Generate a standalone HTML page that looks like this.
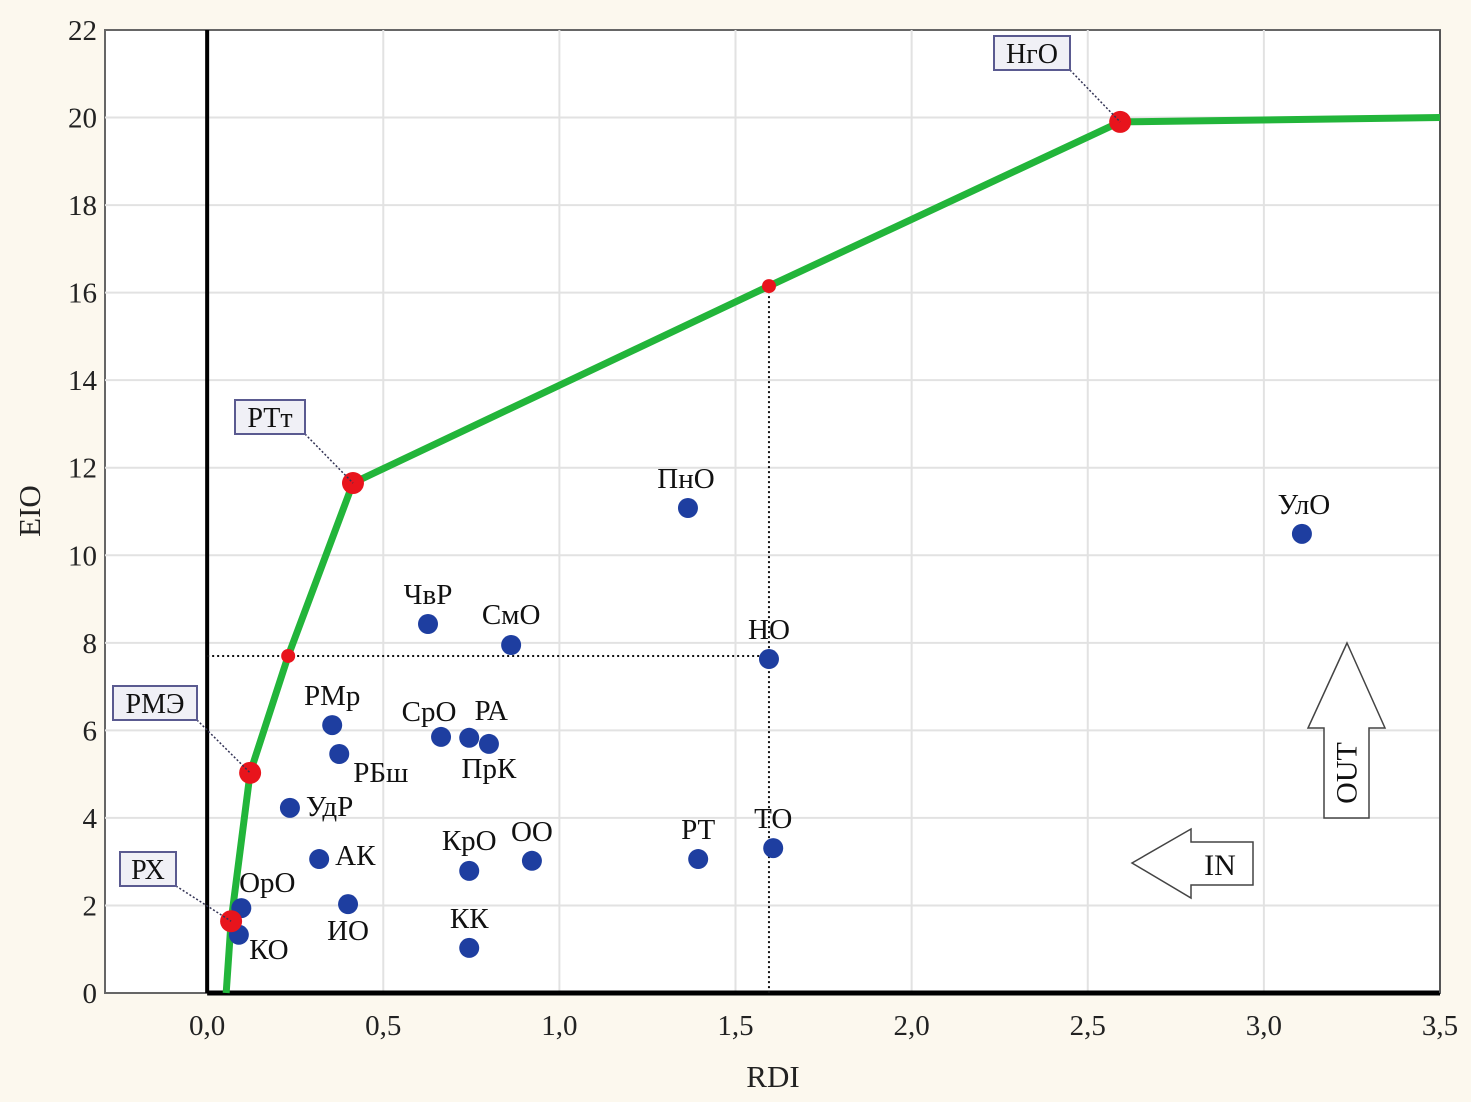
<!DOCTYPE html>
<html><head><meta charset="utf-8"><style>
html,body{margin:0;padding:0;background:#fcf8ee;}
svg{display:block;font-family:"Liberation Serif","DejaVu Serif",serif;}
</style></head><body>
<svg id="chart" width="1471" height="1102" viewBox="0 0 1471 1102">
<rect x="0" y="0" width="1471" height="1102" fill="#fcf8ee"/>
<g id="plot"></g>
</svg>
<script>
const xTicks=[0,0.5,1.0,1.5,2.0,2.5,3.0,3.5];
const xTickLabels=["0,0","0,5","1,0","1,5","2,0","2,5","3,0","3,5"];
const yTicks=[0,2,4,6,8,10,12,14,16,18,20,22];
const pointNames=["ОрО","КО","УдР","АК","ИО","РМр","РБш","ЧвР","СмО","СрО","РА","ПрК","КрО","КК","ОО","ПнО","НО","РТ","ТО","УлО"];
const pointRDI=[0.097,0.09,0.235,0.318,0.40,0.355,0.375,0.627,0.863,0.664,0.744,0.80,0.744,0.744,0.922,1.365,1.595,1.394,1.607,3.108];
const pointEIO=[1.94,1.33,4.23,3.06,2.03,6.12,5.46,8.43,7.95,5.85,5.83,5.69,2.79,1.03,3.02,11.08,7.63,3.06,3.31,10.49];
const frontierRDI=[0.054,0.068,0.122,0.23,0.414,1.595,2.592,3.5];
const frontierEIO=[0,1.64,5.03,7.7,11.65,16.15,19.9,20.0];
const frontierBig=[0,1,1,0,1,0,1,0];
const refRDI=1.595, refEIO=7.7;

const X0=105,X1=1440,Y0=993,Y1=30;
const xmin=-0.29,xmax=3.5,ymin=0,ymax=22;
const sx=v=>X0+(v-xmin)/(xmax-xmin)*(X1-X0);
const sy=v=>Y0-(v-ymin)/(ymax-ymin)*(Y0-Y1);
const NS="http://www.w3.org/2000/svg";
const g=document.getElementById('plot');
function mk(tag,attrs,parent){const e=document.createElementNS(NS,tag);for(const k in attrs)e.setAttribute(k,attrs[k]);(parent||g).appendChild(e);return e;}

let e=mk('rect',{x:X0,y:Y1,width:X1-X0,height:Y0-Y1,fill:'#fff',stroke:'#666','stroke-width':2});


yTicks.forEach((t,i)=>{
  if(t>0&&t<22){const l=mk('line',{x1:X0,x2:X1,y1:sy(t),y2:sy(t),stroke:'#e2e2e2','stroke-width':2});
  
  }
  const tx=mk('text',{x:X0-8,y:sy(t)+10,'text-anchor':'end','font-size':29,fill:'#222'});
  tx.textContent=t;
  
  
});
xTicks.forEach((t,i)=>{
  if(t>0&&t<3.5){const l=mk('line',{x1:sx(t),x2:sx(t),y1:Y1,y2:Y0,stroke:'#e2e2e2','stroke-width':2});
  
  }
  const tx=mk('text',{x:sx(t),y:Y0+42,'text-anchor':'middle','font-size':29,fill:'#222'});
  tx.textContent=xTickLabels[i];
  
  
});
e=mk('line',{x1:sx(0),x2:sx(0),y1:Y1,y2:Y0,stroke:'#000','stroke-width':4});


e=mk('line',{x1:sx(0),x2:X1,y1:Y0,y2:Y0,stroke:'#000','stroke-width':5});


e=mk('line',{x1:X1,x2:X1,y1:Y1,y2:Y0,stroke:'#555','stroke-width':2});


// reference dotted lines
e=mk('line',{x1:sx(0),x2:sx(refRDI),y1:sy(refEIO),y2:sy(refEIO),stroke:'#111','stroke-width':2,'stroke-dasharray':'2,3'});


e=mk('line',{x1:sx(refRDI),x2:sx(refRDI),y1:sy(16.15),y2:Y0,stroke:'#111','stroke-width':2,'stroke-dasharray':'2,3'});


// frontier
e=mk('polyline',{points:frontierRDI.map((v,i)=>sx(v)+','+sy(frontierEIO[i])).join(' '),fill:'none',stroke:'#22b53a','stroke-width':7,'stroke-linejoin':'round'});


// blue points
const labelOff={"ОрО":[26,-16,'middle'],"КО":[30,24,'middle'],"УдР":[16,8,'start'],"АК":[16,6,'start'],"ИО":[0,36,'middle'],"РМр":[0,-20,'middle'],"РБш":[14,28,'start'],"ЧвР":[0,-20,'middle'],"СмО":[0,-21,'middle'],"СрО":[-12,-16,'middle'],"РА":[22,-18,'middle'],"ПрК":[0,34,'middle'],"КрО":[0,-21,'middle'],"КК":[0,-20,'middle'],"ОО":[0,-20,'middle'],"ПнО":[-2,-20,'middle'],"НО":[0,-20,'middle'],"РТ":[0,-20,'middle'],"ТО":[0,-20,'middle'],"УлО":[2,-20,'middle']};
pointNames.forEach((n,i)=>{
  const c=mk('circle',{cx:sx(pointRDI[i]),cy:sy(pointEIO[i]),r:10,fill:'#1e3ea0'});
  
  
  const o=labelOff[n];
  const t=mk('text',{x:sx(pointRDI[i])+o[0],y:sy(pointEIO[i])+o[1],'text-anchor':o[2],'font-size':29,fill:'#111'});
  t.textContent=n;
  
  
});
// frontier points
frontierRDI.forEach((v,i)=>{
  if(i==0||i==frontierRDI.length-1)return;
  const c=mk('circle',{cx:sx(v),cy:sy(frontierEIO[i]),r:frontierBig[i]?11:7,fill:'#e8141c'});
  
  
});
// boxed labels
const boxes=[["РХ",1,120,852,56,34],["РМЭ",2,113,686,84,34],["РТт",4,235,400,70,34],["НгО",6,994,36,76,34]];
boxes.forEach(b=>{
  const px=sx(frontierRDI[b[1]]),py=sy(frontierEIO[b[1]]);
  const l=mk('line',{x1:b[2]+b[4],y1:b[3]+b[5],x2:px,y2:py,stroke:'#335','stroke-width':1.5,'stroke-dasharray':'2,2'});
  
  
  const r=mk('rect',{x:b[2],y:b[3],width:b[4],height:b[5],fill:'#f0f0f6',stroke:'#5a5a90','stroke-width':2});
  
  
  const t=mk('text',{x:b[2]+b[4]/2,y:b[3]+27,'text-anchor':'middle','font-size':28,fill:'#111'});
  t.textContent=b[0];
  
  
});
// arrows
e=mk('polygon',{points:'1132,863 1191,829 1191,842 1253,842 1253,885 1191,885 1191,898',fill:'#fff',stroke:'#444','stroke-width':1.5});


e=mk('text',{x:1220,y:875,'text-anchor':'middle','font-size':30,fill:'#111'});e.textContent='IN';


e=mk('polygon',{points:'1347,643 1385,728 1369,728 1369,818 1324,818 1324,728 1308,728',fill:'#fff',stroke:'#444','stroke-width':1.5});


e=mk('text',{x:1347,y:773,'text-anchor':'middle','font-size':30,fill:'#111',transform:'rotate(-90 1347 773)','dominant-baseline':'central'});e.textContent='OUT';


// axis titles
e=mk('text',{x:773,y:1087,'text-anchor':'middle','font-size':31,fill:'#222'});e.textContent='RDI';


e=mk('text',{x:40,y:511,'text-anchor':'middle','font-size':31,fill:'#222',transform:'rotate(-90 40 511)'});e.textContent='EIO';


</script>
</body></html>
